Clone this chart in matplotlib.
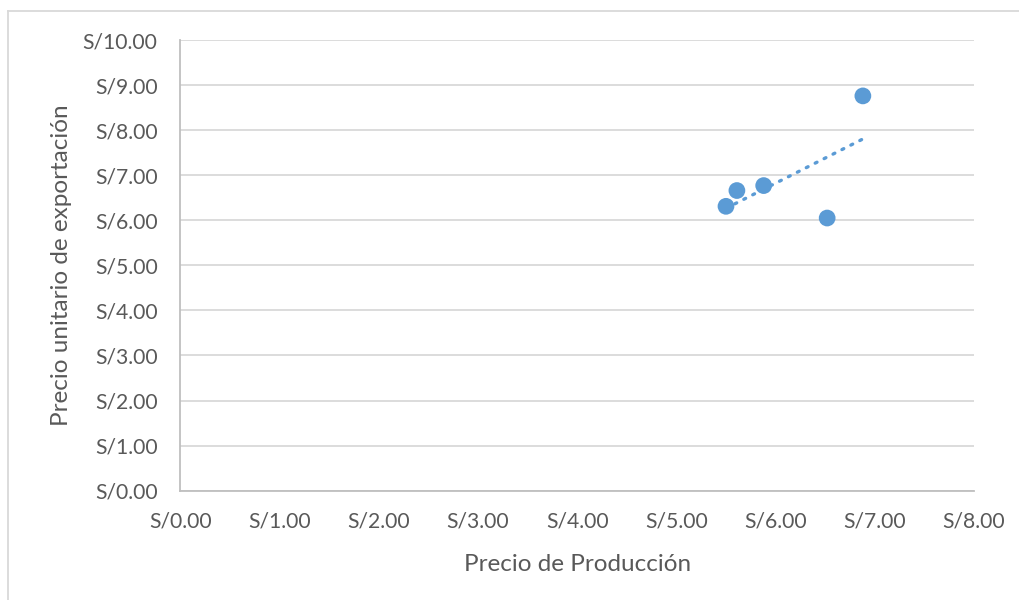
import matplotlib.pyplot as plt
from matplotlib.lines import Line2D
import numpy as np

plt.rcParams["font.family"] = ["Lato", "DejaVu Sans"]

precio_produccion = [5.50, 5.61, 5.88, 6.52, 6.88]
precio_exportacion = [6.31, 6.66, 6.77, 6.05, 8.76]
x_ticks = [0, 1, 2, 3, 4, 5, 6, 7, 8]
y_ticks = [0, 1, 2, 3, 4, 5, 6, 7, 8, 9, 10]

blue = "#5B9BD5"
text_gray = "#595959"

fig = plt.figure(figsize=(10.19, 6), dpi=100)
ax = fig.add_axes([0.1771, 0.1822, 0.7787, 0.7511])

# trendline (linear fit)
k, b = np.polyfit(precio_produccion, precio_exportacion, 1)
xs = np.array([min(precio_produccion), max(precio_produccion)])
ax.plot(xs, k * xs + b, color=blue, lw=2.4, linestyle=(0, (0.6, 2.4)),
        dash_capstyle="round", zorder=2)

ax.scatter(precio_produccion, precio_exportacion, s=145, color=blue,
           edgecolors="none", zorder=3)

ax.set_xlim(0, 8)
ax.set_ylim(0, 10)
ax.set_xticks(x_ticks)
ax.set_yticks(y_ticks)
ax.set_xticklabels(["S/%.2f" % v for v in x_ticks])
ax.set_yticklabels(["S/%.2f" % v for v in y_ticks])
ax.tick_params(length=0, labelsize=15.2, colors=text_gray)
ax.tick_params(axis="y", pad=16.5)
ax.tick_params(axis="x", pad=15)

ax.grid(axis="y", color="#D9D9D9", lw=1.3)
ax.set_axisbelow(True)
for side in ["top", "right"]:
    ax.spines[side].set_visible(False)
for side in ["left", "bottom"]:
    ax.spines[side].set_color("#BFBFBF")
    ax.spines[side].set_linewidth(1.3)

ax.set_xlabel("Precio de Producción", fontsize=17.5, color=text_gray, labelpad=16)
ax.set_ylabel("Precio unitario de exportación", fontsize=17.5, color=text_gray, labelpad=8)

# chart border
fig.add_artist(Line2D([8 / 1019, 1], [1 - 11 / 600, 1 - 11 / 600],
                      transform=fig.transFigure, color="#D9D9D9", lw=1.3))
fig.add_artist(Line2D([8 / 1019, 8 / 1019], [0, 1 - 11 / 600],
                      transform=fig.transFigure, color="#D9D9D9", lw=1.3))

plt.savefig("out.png", dpi=100)
